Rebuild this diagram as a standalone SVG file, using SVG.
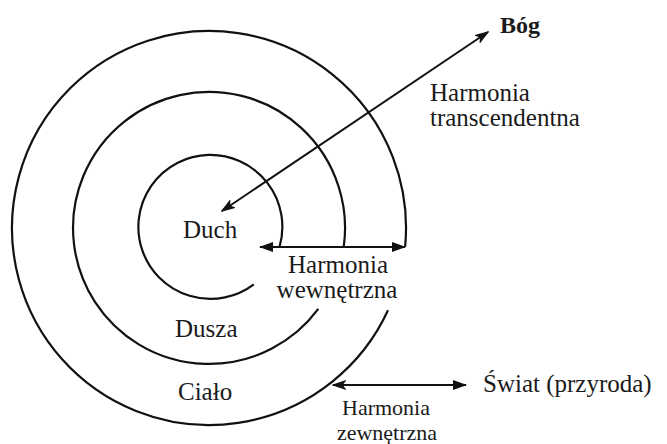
<svg xmlns="http://www.w3.org/2000/svg" width="667" height="444" viewBox="0 0 667 444">
<style>
.ring{fill:none;stroke:#111;stroke-width:2.2}
.con{fill:none;stroke:#111;stroke-width:2}
.t{font-family:"Liberation Serif","Times New Roman",serif;font-size:25px;fill:#1a1a1a}
.s{font-size:22px}
.b{font-weight:bold;font-size:24px}
.m{text-anchor:middle}
</style>
<defs>
<marker id="ah" viewBox="0 0 14 10" refX="13" refY="5" markerWidth="14" markerHeight="10" markerUnits="userSpaceOnUse" orient="auto-start-reverse">
<path d="M0,0 L14,5 L0,10 Z" fill="#111"/>
</marker>
<marker id="ao" viewBox="0 0 14 10" refX="13" refY="5" markerWidth="14" markerHeight="10" markerUnits="userSpaceOnUse" orient="auto-start-reverse">
<path d="M1,1 L13,5 L1,9 L4,5 Z" fill="#111" stroke="#111" stroke-width="1.2" stroke-linejoin="miter"/>
</marker>
</defs>
<rect width="667" height="444" fill="#fff"/>
<g id="cialo">
<path class="ring" d="M405.1 247 A197 197 0 1 0 388 310.3"/>
<text class="t" x="178" y="400">Ciało</text>
</g>
<g id="dusza">
<path class="ring" d="M343.7 247 A136 136 0 1 0 318.3 308.9"/>
<text class="t" x="175" y="337">Dusza</text>
</g>
<g id="duch">
<path class="ring" d="M279.5 247 A72 72 0 1 0 253.8 284.3"/>
<text class="t" x="183" y="238">Duch</text>
</g>
<g id="bog">
<text class="t b" x="500" y="33">Bóg</text>
</g>
<g id="swiat">
<text class="t" x="483" y="392">Świat (przyroda)</text>
</g>
<g id="connectors">
<line class="con" x1="222" y1="211" x2="488" y2="32" marker-start="url(#ao)" marker-end="url(#ao)"/>
<line class="con" x1="260" y1="247" x2="405" y2="247" marker-start="url(#ah)" marker-end="url(#ah)"/>
<line class="con" x1="333" y1="385" x2="466" y2="385" marker-start="url(#ao)" marker-end="url(#ah)"/>
</g>
<g id="labels">
<text class="t" x="430" y="101">Harmonia</text>
<text class="t" x="430" y="126">transcendentna</text>
<text class="t m" x="338" y="273">Harmonia</text>
<text class="t m" x="337" y="298">wewnętrzna</text>
<text class="t s m" x="386" y="415">Harmonia</text>
<text class="t s m" x="387" y="440">zewnętrzna</text>
</g>
</svg>
